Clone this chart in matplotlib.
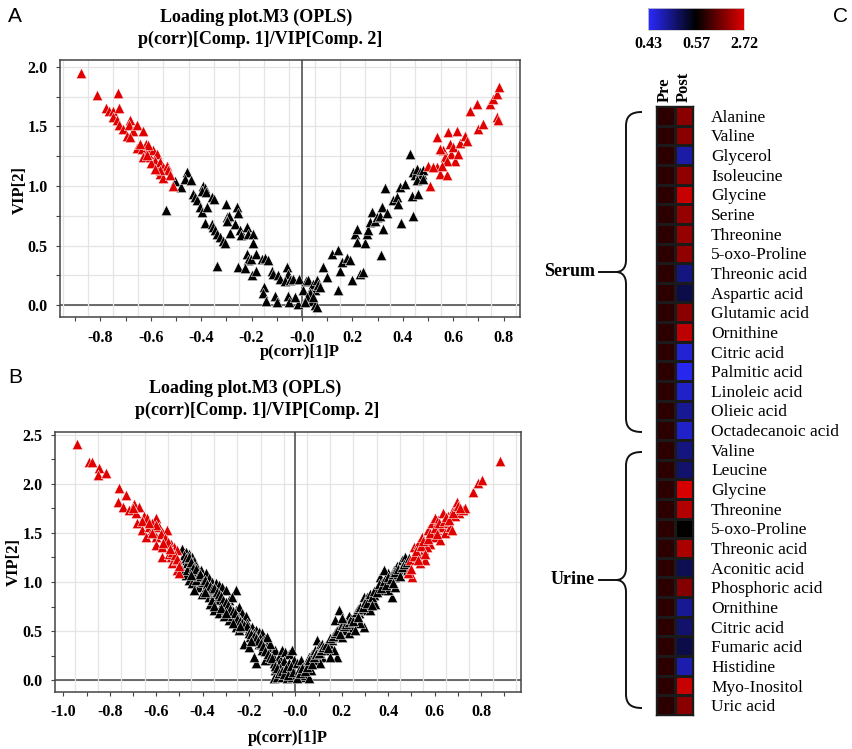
import numpy as np
import matplotlib
matplotlib.use("Agg")
import matplotlib.pyplot as plt
from matplotlib.colors import LinearSegmentedColormap, TwoSlopeNorm
from matplotlib.path import Path
from matplotlib.patches import PathPatch
from matplotlib.ticker import MultipleLocator

# ---- data: panel A (serum loading plot) ----
a_red_x = [-0.877, -0.812, -0.729, -0.779, -0.766, -0.751, -0.725, -0.749, -0.735, -0.725,
           -0.712, -0.683, -0.685, -0.672, -0.653, -0.630, -0.696, -0.683, -0.653, -0.636,
           -0.619, -0.610, -0.630, -0.603, -0.590, -0.577, -0.583, -0.597, -0.570, -0.563,
           -0.550, -0.537, -0.530, -0.563, -0.550, -0.524, -0.511, -0.610, -0.643, -0.614,
           -0.563, -0.583,
           0.501, 0.508, 0.534, 0.534, 0.548, 0.561, 0.567, 0.574, 0.581, 0.587,
           0.593, 0.601, 0.607, 0.614, 0.620, 0.627, 0.646, 0.653, 0.667, 0.693,
           0.700, 0.720, 0.746, 0.759, 0.772, 0.783, 0.772, 0.778, 0.548, 0.574,
           0.554, 0.521]
a_red_y = [1.95, 1.76, 1.78, 1.65, 1.63, 1.63, 1.65, 1.58, 1.55, 1.51,
           1.48, 1.55, 1.51, 1.46, 1.51, 1.46, 1.42, 1.41, 1.32, 1.31,
           1.35, 1.30, 1.24, 1.24, 1.30, 1.27, 1.21, 1.19, 1.16, 1.20,
           1.16, 1.17, 1.13, 1.10, 1.07, 1.09, 1.00, 1.34, 1.35, 1.26,
           1.13, 1.14,
           1.17, 1.00, 1.41, 1.16, 1.10, 1.30, 1.24, 1.09, 1.45, 1.35,
           1.27, 1.33, 1.21, 1.46, 1.27, 1.36, 1.42, 1.38, 1.63, 1.69,
           1.48, 1.52, 1.69, 1.73, 1.77, 1.83, 1.58, 1.55, 1.31, 1.21,
           1.17, 1.16]
a_black_x = [-0.504, -0.481, -0.455, -0.464, -0.442, -0.540, -0.431, -0.425, -0.418, -0.392,
             -0.385, -0.398, -0.381, -0.406, -0.398, -0.378, -0.357, -0.350, -0.385, -0.357,
             -0.352, -0.344, -0.337, -0.327, -0.312, -0.304, -0.300, -0.298, -0.291, -0.298,
             -0.284, -0.257, -0.253, -0.266, -0.246, -0.243, -0.220, -0.214, -0.193, -0.193,
             -0.339, -0.220, -0.214, -0.204, -0.184, -0.253, -0.226, -0.200, -0.183, -0.160,
             -0.147, -0.134, -0.120, -0.114, -0.094, -0.087, -0.061, -0.054, -0.067, -0.048,
             -0.034, -0.011, -0.151, -0.153, -0.143, -0.107, -0.101, -0.054, -0.050, -0.015,
             -0.028,
             0.005, 0.016, 0.025, 0.038, 0.045, 0.052, 0.058, 0.065, 0.032, 0.019,
             0.038, 0.052, 0.061, 0.045, 0.012, 0.071, 0.085, 0.098, 0.118, 0.144,
             0.144, 0.151, 0.157, 0.177, 0.190, 0.197, 0.230, 0.243, 0.210, 0.217,
             0.217, 0.250, 0.257, 0.263, 0.270, 0.276, 0.290, 0.296, 0.310, 0.316,
             0.312, 0.323, 0.329, 0.336, 0.362, 0.376, 0.382, 0.389, 0.392, 0.407,
             0.429, 0.435, 0.442, 0.439, 0.450, 0.455, 0.462, 0.468, 0.475, 0.462,
             0.479, 0.455, 0.481]
a_black_y = [1.04, 0.99, 1.12, 1.06, 1.05, 0.80, 0.93, 0.91, 0.88, 1.00,
             0.98, 0.96, 0.95, 0.82, 0.78, 0.82, 0.91, 0.89, 0.69, 0.68,
             0.66, 0.63, 0.60, 0.57, 0.54, 0.52, 0.85, 0.74, 0.75, 0.71,
             0.61, 0.82, 0.77, 0.68, 0.63, 0.59, 0.66, 0.60, 0.60, 0.52,
             0.33, 0.43, 0.38, 0.39, 0.43, 0.32, 0.31, 0.25, 0.29, 0.39,
             0.40, 0.38, 0.29, 0.26, 0.25, 0.22, 0.32, 0.26, 0.20, 0.21,
             0.22, 0.22, 0.15, 0.10, 0.04, 0.08, 0.03, 0.08, 0.03, 0.01,
             0.07,
             0.13, 0.20, 0.21, 0.15, 0.18, 0.13, 0.21, 0.17, 0.10, 0.07,
             0.04, 0.00, -0.01, 0.07, 0.03, 0.15, 0.32, 0.24, 0.43, 0.46,
             0.13, 0.29, 0.36, 0.40, 0.38, 0.21, 0.26, 0.28, 0.60, 0.64,
             0.53, 0.52, 0.60, 0.63, 0.70, 0.78, 0.71, 0.74, 0.75, 0.82,
             0.42, 0.64, 0.98, 0.77, 0.88, 0.91, 0.85, 0.99, 0.69, 1.02,
             1.27, 0.92, 1.12, 0.75, 1.09, 1.14, 1.07, 1.12, 1.10, 0.93,
             1.13, 1.05, 1.06]

# ---- data: panel B (urine loading plot) ----
b_red_x = [-0.943, -0.889, -0.875, -0.846, -0.849, -0.817, -0.760, -0.731, -0.763, -0.742,
           -0.695, -0.674, -0.717, -0.688, -0.652, -0.638, -0.602, -0.681, -0.659, -0.631,
           -0.616, -0.588, -0.574, -0.602, -0.645, -0.602, -0.574, -0.552, -0.538, -0.523,
           -0.509, -0.574, -0.538, -0.530, -0.509, -0.502, -0.552, -0.616, -0.545, -0.516,
           -0.60, -0.58, -0.56, -0.55, -0.53, -0.52, -0.51, -0.66, -0.62, -0.57,
           -0.54, -0.50, -0.70, -0.63,
           0.495, 0.502, 0.509, 0.523, 0.530, 0.538, 0.545, 0.552, 0.559, 0.573,
           0.581, 0.588, 0.595, 0.602, 0.609, 0.616, 0.624, 0.631, 0.638, 0.645,
           0.652, 0.659, 0.667, 0.674, 0.681, 0.688, 0.695, 0.703, 0.724, 0.731,
           0.767, 0.785, 0.806, 0.882, 0.530, 0.566, 0.487,
           0.51, 0.52, 0.54, 0.55, 0.56, 0.57, 0.58, 0.60, 0.61, 0.62,
           0.64, 0.65, 0.66, 0.68, 0.70, 0.71, 0.53, 0.50]
b_red_y = [2.41, 2.22, 2.22, 2.16, 2.09, 2.11, 1.96, 1.89, 1.82, 1.77,
           1.80, 1.77, 1.73, 1.70, 1.67, 1.65, 1.65, 1.60, 1.53, 1.56,
           1.53, 1.56, 1.51, 1.46, 1.46, 1.38, 1.36, 1.43, 1.39, 1.36,
           1.33, 1.26, 1.26, 1.19, 1.12, 1.09, 1.53, 1.60, 1.29, 1.22,
           1.58, 1.49, 1.45, 1.41, 1.31, 1.28, 1.23, 1.62, 1.50, 1.40,
           1.34, 1.16, 1.75, 1.60,
           1.22, 1.05, 1.36, 1.26, 1.39, 1.19, 1.46, 1.33, 1.22, 1.53,
           1.39, 1.60, 1.46, 1.65, 1.53, 1.63, 1.43, 1.56, 1.70, 1.50,
           1.60, 1.67, 1.56, 1.53, 1.73, 1.67, 1.82, 1.70, 1.73, 1.75,
           1.92, 2.01, 2.04, 2.23, 1.29, 1.36, 1.09,
           1.27, 1.32, 1.37, 1.42, 1.29, 1.44, 1.50, 1.55, 1.49, 1.60,
           1.62, 1.66, 1.63, 1.70, 1.78, 1.75, 1.22, 1.13]
b_black_x = [-0.490, -0.473, -0.459, -0.444, -0.480, -0.466, -0.452, -0.437, -0.430, -0.487,
             -0.473, -0.459, -0.444, -0.423, -0.409, -0.401, -0.387, -0.373, -0.358, -0.344,
             -0.330, -0.315, -0.301, -0.258, -0.416, -0.437, -0.401, -0.387, -0.373, -0.351,
             -0.337, -0.366, -0.351, -0.330, -0.315, -0.301, -0.287, -0.272, -0.280, -0.258,
             -0.244, -0.251, -0.229, -0.215, -0.208, -0.258, -0.244, -0.229, -0.201, -0.186,
             -0.172, -0.158, -0.143, -0.194, -0.172, -0.158, -0.136, -0.129, -0.222, -0.201,
             -0.172, -0.179, -0.115, -0.100, -0.086, -0.072, -0.057, -0.043, -0.029, -0.014,
             -0.115, -0.093, -0.072, -0.050, -0.029, -0.007, -0.086, -0.065, -0.043, -0.022,
             -0.093, -0.079, -0.057, -0.036, -0.014, -0.129, -0.143, -0.108, -0.287, -0.308,
             -0.358, -0.272, -0.237, -0.179, -0.151, -0.122, -0.380, -0.430, -0.466,
             -0.48, -0.47, -0.46, -0.45, -0.44, -0.43, -0.42, -0.41, -0.40, -0.39,
             -0.38, -0.37, -0.36, -0.35, -0.34, -0.33, -0.32, -0.31, -0.30, -0.29,
             -0.28, -0.27, -0.26, -0.25, -0.24, -0.23, -0.22, -0.21, -0.20, -0.19,
             -0.18, -0.17, -0.16, -0.15, -0.14, -0.13, -0.12, -0.11, -0.10, -0.09,
             -0.08, -0.07, -0.06, -0.05, -0.04, -0.03, -0.02, -0.01, -0.35, -0.32,
             -0.27, -0.24, -0.45, -0.39, -0.30, -0.19,
             0.007, 0.022, 0.014, 0.029, 0.043, 0.057, 0.007, 0.036, 0.050, 0.057,
             0.072, 0.086, 0.079, 0.093, 0.100, 0.115, 0.115, 0.129, 0.143, 0.158,
             0.172, 0.179, 0.165, 0.186, 0.172, 0.179, 0.194, 0.208, 0.222, 0.215,
             0.229, 0.244, 0.258, 0.272, 0.287, 0.294, 0.308, 0.301, 0.323, 0.337,
             0.294, 0.280, 0.316, 0.344, 0.366, 0.358, 0.373, 0.380, 0.387, 0.401,
             0.409, 0.416, 0.423, 0.437, 0.430, 0.444, 0.459, 0.466, 0.473, 0.480,
             0.487, 0.401, 0.430, 0.258, 0.229, 0.201, 0.151, 0.108, 0.065, 0.323,
             0.380,
             0.02, 0.03, 0.04, 0.05, 0.06, 0.07, 0.08, 0.09, 0.10, 0.11,
             0.12, 0.13, 0.14, 0.15, 0.16, 0.17, 0.18, 0.19, 0.20, 0.21,
             0.22, 0.23, 0.24, 0.25, 0.26, 0.27, 0.28, 0.29, 0.30, 0.31,
             0.32, 0.33, 0.34, 0.35, 0.36, 0.37, 0.38, 0.39, 0.40, 0.41,
             0.42, 0.43, 0.44, 0.45, 0.46, 0.47, 0.48, 0.49, 0.20, 0.27,
             0.33, 0.42]
b_black_y = [1.34, 1.31, 1.29, 1.26, 1.22, 1.19, 1.16, 1.21, 1.16, 1.12,
             1.07, 1.02, 0.99, 1.09, 1.12, 1.05, 1.09, 1.04, 1.00, 0.99,
             0.97, 0.95, 0.92, 0.92, 0.95, 0.92, 0.88, 0.95, 0.85, 0.88,
             0.82, 0.78, 0.71, 0.68, 0.78, 0.71, 0.82, 0.85, 0.75, 0.71,
             0.75, 0.65, 0.68, 0.65, 0.58, 0.54, 0.51, 0.54, 0.51, 0.54,
             0.51, 0.49, 0.48, 0.44, 0.41, 0.37, 0.41, 0.34, 0.37, 0.34,
             0.17, 0.24, 0.31, 0.27, 0.31, 0.24, 0.31, 0.29, 0.27, 0.31,
             0.20, 0.17, 0.17, 0.19, 0.17, 0.20, 0.10, 0.12, 0.10, 0.09,
             0.02, 0.03, 0.03, 0.02, 0.03, 0.20, 0.31, 0.37, 0.61, 0.65,
             0.82, 0.65, 0.61, 0.48, 0.43, 0.44, 0.92, 1.02, 1.12,
             1.28, 1.24, 1.25, 1.20, 1.14, 1.13, 1.06, 1.08, 1.00, 1.02,
             0.98, 0.96, 0.93, 0.94, 0.90, 0.88, 0.86, 0.82, 0.80, 0.77,
             0.72, 0.70, 0.68, 0.62, 0.60, 0.58, 0.56, 0.55, 0.48, 0.47,
             0.45, 0.43, 0.40, 0.38, 0.35, 0.30, 0.27, 0.24, 0.22, 0.14,
             0.12, 0.07, 0.09, 0.06, 0.12, 0.05, 0.14, 0.08, 0.76, 0.73,
             0.58, 0.55, 1.07, 0.90, 0.68, 0.40,
             0.17, 0.20, 0.10, 0.03, 0.05, 0.02, 0.02, 0.14, 0.17, 0.24,
             0.27, 0.31, 0.20, 0.41, 0.34, 0.37, 0.24, 0.31, 0.37, 0.41,
             0.44, 0.24, 0.31, 0.71, 0.61, 0.51, 0.54, 0.58, 0.61, 0.51,
             0.48, 0.54, 0.65, 0.68, 0.71, 0.85, 0.85, 0.78, 0.82, 0.87,
             0.54, 0.58, 0.75, 0.78, 1.05, 0.95, 0.99, 0.92, 1.02, 1.09,
             0.99, 0.85, 1.12, 1.16, 1.05, 1.09, 1.22, 1.19, 1.26, 1.12,
             1.16, 0.92, 0.95, 0.51, 0.65, 0.44, 0.24, 0.17, 0.10, 0.71,
             1.12,
             0.07, 0.12, 0.09, 0.13, 0.20, 0.16, 0.24, 0.27, 0.28, 0.31,
             0.34, 0.36, 0.33, 0.43, 0.45, 0.48, 0.50, 0.47, 0.56, 0.55,
             0.57, 0.59, 0.62, 0.60, 0.69, 0.72, 0.75, 0.74, 0.80, 0.79,
             0.88, 0.85, 0.91, 0.90, 0.98, 0.94, 1.01, 0.97, 1.05, 1.03,
             1.08, 1.10, 1.13, 1.06, 1.15, 1.18, 1.20, 1.24, 0.63, 0.64,
             0.77, 0.99]

# ---- data: panel C heatmap (fold change, Pre = 1) ----
serum_names = ["Alanine", "Valine", "Glycerol", "Isoleucine", "Glycine", "Serine",
               "Threonine", "5-oxo-Proline", "Threonic acid", "Aspartic acid",
               "Glutamic acid", "Ornithine", "Citric acid", "Palmitic acid",
               "Linoleic acid", "Olieic acid", "Octadecanoic acid"]
serum_post = [1.90, 1.90, 0.48, 1.95, 2.50, 2.00, 2.00, 1.95, 0.50, 0.53,
              1.90, 2.40, 0.455, 0.44, 0.46, 0.49, 0.46]
urine_names = ["Valine", "Leucine", "Glycine", "Threonine", "5-oxo-Proline",
               "Threonic acid", "Aconitic acid", "Phosphoric acid", "Ornithine",
               "Citric acid", "Fumaric acid", "Histidine", "Myo-Inositol", "Uric acid"]
urine_post = [0.50, 0.51, 2.65, 2.30, 0.60, 2.20, 0.525, 1.85, 0.49, 0.51,
              0.53, 0.475, 2.50, 1.90]
pre_value = 1.0
cbar_ticks = [0.43, 0.57, 2.72]

# ---- figure ----
W, H = 852, 749
fig = plt.figure(figsize=(W / 100, H / 100), dpi=100)
SERIF = "Liberation Serif"
SANS = "Liberation Sans"


def fx(px):
    return px / W


def fy(py):
    return 1 - py / H


def rect(l, t, r, b):
    return [fx(l), fy(b), fx(r) - fx(l), fy(t) - fy(b)]


def loading_plot(ax, rx, ry, kx, ky, xlim, ylim, xstart, ygrid):
    ax.set_xlim(*xlim)
    ax.set_ylim(*ylim)
    ax.xaxis.set_minor_locator(MultipleLocator(0.05))
    ax.grid(True, which="minor", axis="x", color="#e4e4e4", lw=0.9)
    ax.yaxis.set_minor_locator(MultipleLocator(0.25))
    for g in np.arange(0, ylim[1], ygrid):
        ax.axhline(g, color="#e4e4e4", lw=0.9, zorder=0)
    ax.axhline(0, color="#444444", lw=1.1, zorder=1)
    ax.axvline(0, color="#444444", lw=1.1, zorder=1)
    ax.scatter(kx, ky, marker="^", s=56, c="black", edgecolors="white",
               linewidths=0.35, zorder=3)
    ax.scatter(rx, ry, marker="^", s=56, c="#e00000", edgecolors="white",
               linewidths=0.35, zorder=3)
    # ticks every 0.1, labels every 0.2
    xt = np.round(np.arange(xstart, xlim[1], 0.1), 2)
    ax.set_xticks(xt)
    labels = []
    for v in xt:
        if round(v * 10) % 2:
            labels.append("")
        elif abs(v) < 1e-9:
            labels.append("-0.0")
        else:
            labels.append(f"{v:.1f}")
    ax.set_xticklabels(labels)
    yt = np.arange(0, ylim[1], 0.5)
    ax.set_yticks(yt)
    ax.set_yticklabels([f"{v:.1f}" for v in yt])
    for lab in ax.get_xticklabels() + ax.get_yticklabels():
        lab.set_fontfamily(SERIF)
        lab.set_fontweight("bold")
        lab.set_fontsize(11.5)
    ax.tick_params(which="both", length=3, width=0.8, color="#444444", pad=6)
    ax.tick_params(axis="x", which="minor", length=0)
    for s in ax.spines.values():
        s.set_color("#444444")
        s.set_linewidth(1.1)


axA = fig.add_axes(rect(60, 60, 520, 317))
loading_plot(axA, a_red_x, a_red_y, a_black_x, a_black_y,
             (-0.96, 0.865), (-0.098, 2.056), -0.9, 0.25)

axB = fig.add_axes(rect(55, 432, 521, 692))
loading_plot(axB, b_red_x, b_red_y, b_black_x, b_black_y,
             (-1.036, 0.972), (-0.122, 2.53), -1.0, 0.5)

tkw = dict(family=SERIF, fontweight="bold", ha="center", va="center")
fig.text(fx(256), fy(17), "Loading plot.M3 (OPLS)", fontsize=13, **tkw)
fig.text(fx(260), fy(39), "p(corr)[Comp. 1]/VIP[Comp. 2]", fontsize=13, **tkw)
fig.text(fx(300), fy(352), "p(corr)[1]P", fontsize=12, **tkw)
fig.text(fx(20), fy(190), "VIP[2]", fontsize=12, rotation=90, **tkw)

fig.text(fx(245), fy(388), "Loading plot.M3 (OPLS)", fontsize=13, **tkw)
fig.text(fx(257), fy(410), "p(corr)[Comp. 1]/VIP[Comp. 2]", fontsize=13, **tkw)
fig.text(fx(288), fy(738), "p(corr)[1]P", fontsize=12, **tkw)
fig.text(fx(14), fy(562), "VIP[2]", fontsize=12, rotation=90, **tkw)

for letter, px, py in [("A", 15, 16), ("B", 15, 378), ("C", 840, 16)]:
    fig.text(fx(px), fy(py), letter, family=SANS, fontsize=15, ha="center", va="center")

# ---- heatmap ----
names = serum_names + urine_names
post = serum_post + urine_post
vals = np.array([[pre_value, p] for p in post])
cmap = LinearSegmentedColormap.from_list("bkr", ["#2a2aff", "#000000", "#de0000"])
norm = TwoSlopeNorm(vmin=cbar_ticks[0], vcenter=cbar_ticks[1], vmax=cbar_ticks[2])

axC = fig.add_axes(rect(656, 106, 693, 715))
mesh = axC.pcolormesh(vals, cmap=cmap, norm=norm, edgecolors="#1a1a1a", linewidth=0.8)
axC.set_xlim(0, 2)
axC.set_ylim(len(names), 0)
axC.set_yticks(np.arange(len(names)) + 0.5)
axC.set_yticklabels(names, family=SERIF, fontsize=12.5)
axC.yaxis.tick_right()
axC.set_xticks([0.5, 1.5])
axC.set_xticklabels(["Pre", "Post"], family=SERIF, fontweight="bold",
                    fontsize=12, rotation=90)
axC.xaxis.tick_top()
axC.tick_params(length=0, pad=3)
axC.tick_params(axis="y", pad=13)
for s in axC.spines.values():
    s.set_color("#1a1a1a")
    s.set_linewidth(1)

cax = fig.add_axes(rect(648, 8, 744, 30))
cb = fig.colorbar(mesh, cax=cax, orientation="horizontal", ticks=cbar_ticks)
cb.outline.set_edgecolor("#cccccc")
cb.outline.set_linewidth(0.6)
cax.set_xticklabels([f"{t:.2f}" for t in cbar_ticks], family=SERIF,
                    fontweight="bold", fontsize=11.5)
cax.tick_params(length=0, pad=4)

# ---- braces and group labels (overlay in pixel coords) ----
ov = fig.add_axes([0, 0, 1, 1], facecolor="none")
ov.set_xlim(0, W)
ov.set_ylim(H, 0)
ov.axis("off")


def brace(ax, top, bot, x=626, tip=616, hook=642):
    mid = (top + bot) / 2
    verts = [(hook, top), (x + 5, top), (x, top + 4), (x, top + 14),
             (x, mid - 12),
             (x, mid - 4), (x - 4, mid), (tip, mid),
             (x - 4, mid), (x, mid + 4), (x, mid + 12),
             (x, bot - 14),
             (x, bot - 4), (x + 5, bot), (hook, bot)]
    codes = [Path.MOVETO, Path.CURVE4, Path.CURVE4, Path.CURVE4,
             Path.LINETO,
             Path.CURVE4, Path.CURVE4, Path.CURVE4,
             Path.CURVE4, Path.CURVE4, Path.CURVE4,
             Path.LINETO,
             Path.CURVE4, Path.CURVE4, Path.CURVE4]
    ax.add_patch(PathPatch(Path(verts, codes), fill=False, lw=1.4, color="#111111"))
    ax.plot([tip - 17, tip], [mid, mid], color="#111111", lw=1.4)
    return mid


m1 = brace(ov, 112, 432)
m2 = brace(ov, 452, 708)
ov.text(595, m1, "Serum", family=SERIF, fontweight="bold", fontsize=13,
        ha="right", va="center")
ov.text(595, m2, "Urine", family=SERIF, fontweight="bold", fontsize=13,
        ha="right", va="center")

fig.savefig("out.png", dpi=100)
